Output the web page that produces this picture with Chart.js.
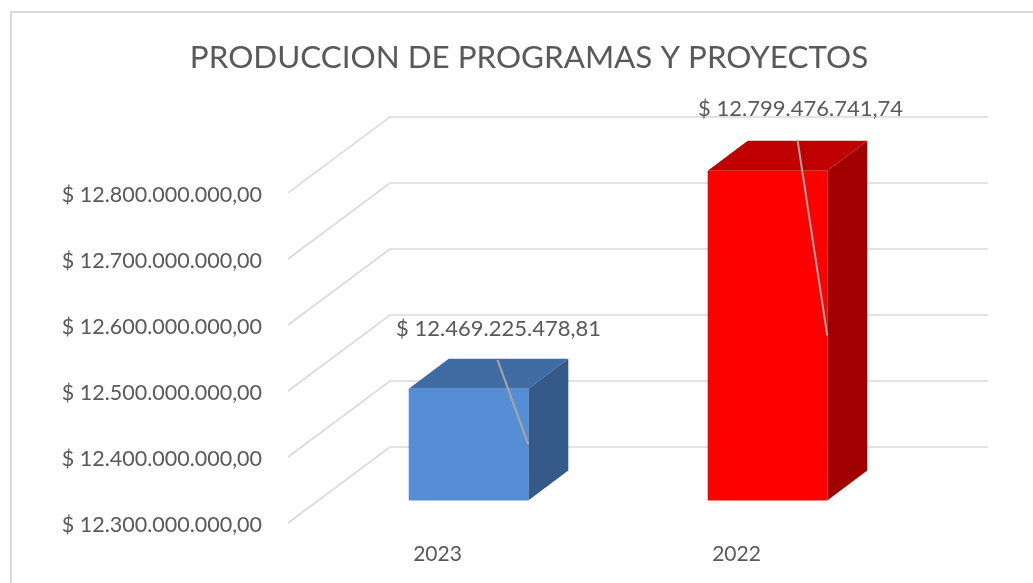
<!DOCTYPE html>
<html><head><meta charset="utf-8">
<style>html,body{margin:0;padding:0;background:#fff}canvas{display:block}</style>
<script src="https://cdn.jsdelivr.net/npm/chart.js@4"></script>
</head><body><canvas id="c" width="1033" height="583"></canvas>
<script>
const chartTitle = 'PRODUCCION DE PROGRAMAS Y PROYECTOS';
const categories = ['2023', '2022'];
const values = [12469225478.81, 12799476741.74];
const valueLabels = ['$ 12.469.225.478,81', '$ 12.799.476.741,74'];
const frontColors = ['#558ED5', '#FF0000'];
const topColors = ['#3F6CA3', '#C00000'];
const sideColors = ['#355A8A', '#A00000'];
const axisMin = 12300000000, axisMax = 12800000000, axisStep = 100000000;
const FONT = 'Lato,"Open Sans",sans-serif';
const TEXT = '#595959', GRID = '#D9D9D9', LEADER = '#A6A6A6';
const wall = {dx: 102, dy: -76}, gridLift = -2, barShift = {dx: 31, dy: -24.5}, barDepth = {dx: 40, dy: -30};
const labelOffsets = [{x: 30, y: -60, sx: 29, sy: -29}, {x: 33, y: -62, sx: 30, sy: -31}];

function fmt(v){ return '$ ' + Math.round(v).toLocaleString('de-DE') + ',00'; }
function poly(ctx, pts, fill){
  ctx.beginPath(); pts.forEach((p,i)=> i?ctx.lineTo(p[0],p[1]):ctx.moveTo(p[0],p[1]));
  ctx.closePath(); ctx.fillStyle = fill; ctx.fill();
}
const frame = { id:'frame', beforeDraw(c){
  const x=c.ctx; x.save(); x.strokeStyle=GRID; x.lineWidth=2;
  x.beginPath(); x.moveTo(11,583); x.lineTo(11,12); x.lineTo(1033,12); x.stroke(); x.restore();
}};
const walls = { id:'walls', beforeDatasetsDraw(c){
  const x=c.ctx, y=c.scales.y, a=c.chartArea; x.save(); x.strokeStyle=GRID; x.lineWidth=1.6;
  y.ticks.forEach(t=>{ const p=y.getPixelForValue(t.value)+gridLift;
    x.beginPath(); x.moveTo(a.left,p); x.lineTo(a.left+wall.dx,p+wall.dy); x.lineTo(a.right+wall.dx,p+wall.dy); x.stroke(); });
  x.restore();
  c.getDatasetMeta(0).data.forEach((b,i)=>{
    const l=b.x-b.width/2+barShift.dx, r=b.x+b.width/2+barShift.dx, t=b.y+barShift.dy, o=b.base+barShift.dy;
    poly(x,[[l,t],[l+barDepth.dx,t+barDepth.dy],[r+barDepth.dx,t+barDepth.dy],[r,t]],topColors[i]);
    poly(x,[[r,t],[r+barDepth.dx,t+barDepth.dy],[r+barDepth.dx,o+barDepth.dy],[r,o]],sideColors[i]);
  });
  x.save(); x.translate(barShift.dx,barShift.dy);
}, afterDatasetsDraw(c){
  const x=c.ctx; x.restore();
  c.getDatasetMeta(0).data.forEach((b,i)=>{
    const r=b.x+b.width/2+barShift.dx, t=b.y+barShift.dy, o=b.base+barShift.dy, off=labelOffsets[i], cx=b.x+barShift.dx;
    x.save(); x.strokeStyle=LEADER; x.lineWidth=2;
    x.beginPath(); x.moveTo(cx+off.sx,t+off.sy); x.lineTo(r,(t+o)/2); x.stroke();
    x.fillStyle=TEXT; x.font='22px '+FONT; x.textAlign='center'; x.textBaseline='middle';
    x.fillText(valueLabels[i],cx+off.x,t+off.y); x.restore();
  });
}};
new Chart(document.getElementById('c'),{
  type:'bar',
  data:{labels:categories,datasets:[{data:values,base:axisMin,backgroundColor:frontColors,categoryPercentage:1,barPercentage:0.4,clip:false}]},
  plugins:[frame,walls],
  options:{responsive:false,animation:false,
    layout:{padding:{left:25,right:0,top:39,bottom:0}},
    plugins:{legend:{display:false},tooltip:{enabled:false},
      title:{display:true,text:chartTitle,color:TEXT,font:{family:FONT,size:31.4,weight:'normal',lineHeight:1.2},padding:{top:0,bottom:118.3},align:'center',fullSize:true}},
    scales:{
      x:{grid:{display:false},border:{display:false},ticks:{color:TEXT,font:{family:FONT,size:21},padding:9,maxRotation:0},afterFit(s){s.height=58;}},
      y:{min:axisMin,max:axisMax,ticks:{stepSize:axisStep,color:TEXT,font:{family:FONT,size:21.5},padding:18,callback:fmt},
        grid:{display:false},border:{display:false},afterFit(s){s.width=263;}},
      y2:{position:'right',ticks:{display:false},grid:{display:false},border:{display:false},afterFit(s){s.width=147;}}
    }
  }
});
</script></body></html>
